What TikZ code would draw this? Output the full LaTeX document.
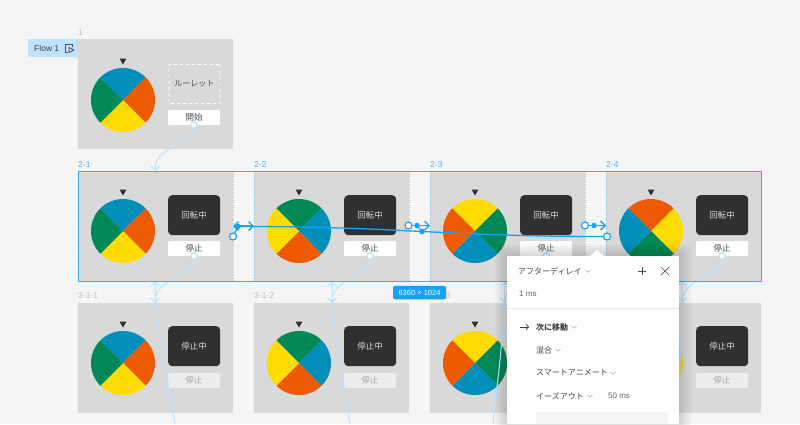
\documentclass[tikz,border=0pt]{standalone}
\usepackage{fontspec}
\setmainfont{Noto Sans CJK JP}
\newfontfamily\latinfont{Liberation Sans}
\usetikzlibrary{arrows.meta}
\definecolor{bgcolor}{HTML}{F5F5F5}
\definecolor{framecolor}{HTML}{D9D9D9}
\definecolor{darkbox}{HTML}{303030}
\definecolor{selcolor}{HTML}{18A0FB}
\definecolor{flowcolor}{HTML}{BDE3FF}
\definecolor{wblue}{HTML}{008FBB}
\definecolor{worange}{HTML}{EE5A00}
\definecolor{wyellow}{HTML}{FFDB00}
\definecolor{wgreen}{HTML}{008855}
\newcommand{\wheelr}{32}
\newcommand{\wheel}[7]{
\coordinate (#1) at (#2, #3);
\begin{scope}
\clip (#1) circle (\wheelr);
\fill[#4] (#1) -- ++(-40, -40) -- ++(80, 0) -- cycle;
\fill[#5] (#1) -- ++(40, -40) -- ++(0, 80) -- cycle;
\fill[#6] (#1) -- ++(40, 40) -- ++(-80, 0) -- cycle;
\fill[#7] (#1) -- ++(-40, 40) -- ++(0, -80) -- cycle;
\end{scope}
\fill[darkbox] (#2-3.5, #3-41.5) -- (#2+3.5, #3-41.5) -- (#2, #3-35.5) -- cycle;
}
\newcommand{\chev}[2]{\draw[black!35, line width=0.5pt] (#1-2.5, #2-1) -- (#1, #2+1.2) -- (#1+2.5, #2-1);}
\tikzset{
frame/.style={fill=framecolor, anchor=north west, minimum width=155pt, minimum height=110pt, inner sep=0pt},
framelabel/.style={anchor=west, inner sep=0pt, font=\latinfont\fontsize{8.5}{8}\selectfont, text=black!25},
sellabel/.style={framelabel, text=selcolor!80},
darkbtn/.style={fill=darkbox, rounded corners=4pt, anchor=north west, minimum width=52pt, minimum height=40pt, inner sep=0pt, text=black!15, font=\fontsize{8.5}{8}\selectfont},
whitebtn/.style={fill=white, rounded corners=1pt, anchor=north west, minimum width=52pt, minimum height=15pt, inner sep=0pt, text=black!70, font=\fontsize{8.5}{8}\selectfont},
offbtn/.style={whitebtn, fill=black!7, text=black!35},
flow/.style={draw=flowcolor, line width=1.1pt},
flowtip/.style={flow, -{Straight Barb[length=4.5pt, width=9pt]}},
flowknob/.style={circle, draw=flowcolor, fill=white, line width=1.2pt, minimum size=6.5pt, inner sep=0pt},
sel/.style={draw=selcolor, line width=1.3pt},
seltip/.style={sel, -{Straight Barb[length=4.5pt, width=9pt]}},
selknob/.style={circle, draw=selcolor, fill=white, line width=1.2pt, minimum size=7pt, inner sep=0pt},
seldot/.style={circle, fill=selcolor, minimum size=5.5pt, inner sep=0pt},
paneltext/.style={anchor=west, inner sep=0pt, text=black!75, font=\fontsize{8}{8}\selectfont},
panellatin/.style={anchor=west, inner sep=0pt, text=black!60, font=\latinfont\fontsize{8}{8}\selectfont},
}

\begin{document}
\begin{tikzpicture}[x=1pt, y=-1pt]
\clip (0, 0) rectangle (800, 424);
\useasboundingbox (0, 0) rectangle (800, 424);
\fill[bgcolor] (0, 0) rectangle (800, 424);
%frames
\node[frame] (f1) at (78, 39) {};
\node[frame] (f21) at (78, 171) {};
\node[frame] (f22) at (254, 171) {};
\node[frame] (f23) at (430, 171) {};
\node[frame] (f24) at (606, 171) {};
\node[frame] (f31) at (78, 303) {};
\node[frame] (f32) at (254, 303) {};
\node[frame] (f33) at (430, 303) {};
\node[frame] (f34) at (606, 303) {};
%frame labels
\node[framelabel] (l1) at (78, 33) {1};
\node[sellabel] (l21) at (78, 165) {2-1};
\node[sellabel] (l22) at (254, 165) {2-2};
\node[sellabel] (l23) at (430, 165) {2-3};
\node[sellabel] (l24) at (606, 165) {2-4};
\node[framelabel] (l31) at (78, 296) {3-1-1};
\node[framelabel] (l32) at (254, 296) {3-1-2};
\node[framelabel] (l33) at (430, 296) {3-1-3};
%flow tag
\fill[flowcolor, rounded corners=2pt] (28, 39) rectangle (84, 57);
\fill[framecolor] (78, 39) rectangle (84, 57);
\node[anchor=west, inner sep=0pt, text=black!75, font=\latinfont\fontsize{8.5}{8}\selectfont] (tag) at (34, 48) {Flow 1};
\draw[black!70, line width=0.7pt] (72, 44) -- (65.5, 44) -- (65.5, 52) -- (68, 52);
\draw[black!70, line width=0.7pt] (72, 44) -- (72, 47);
\draw[black!70, line width=0.7pt, line join=round] (69, 47.5) -- (74, 50) -- (69, 52.5) -- cycle;
%wheels
\wheel{w1}{123}{100}{wblue}{worange}{wyellow}{wgreen}
\wheel{w21}{123}{231}{wblue}{worange}{wyellow}{wgreen}
\wheel{w22}{299}{231}{wgreen}{wblue}{worange}{wyellow}
\wheel{w23}{475}{231}{wyellow}{wgreen}{wblue}{worange}
\wheel{w24}{651}{231}{worange}{wyellow}{wgreen}{wblue}
\wheel{w31}{123}{363}{wblue}{worange}{wyellow}{wgreen}
\wheel{w32}{299}{363}{wgreen}{wblue}{worange}{wyellow}
\wheel{w33}{475}{363}{wyellow}{wgreen}{wblue}{worange}
\wheel{w34}{651}{363}{worange}{wyellow}{wgreen}{wblue}
%buttons
\node[anchor=north west, draw=white, dashed, line width=0.8pt, minimum width=51pt, minimum height=39pt, inner sep=0pt, rounded corners=1pt, text=black!70, font=\fontsize{8}{8}\selectfont] (slot) at (168.5, 64) {ルーレット};
\node[whitebtn] (start) at (168, 110) {開始};
\node[darkbtn] (d21) at (168, 195) {回転中};
\node[darkbtn] (d22) at (344, 195) {回転中};
\node[darkbtn] (d23) at (520, 195) {回転中};
\node[darkbtn] (d24) at (696, 195) {回転中};
\node[whitebtn] (b21) at (168, 241) {停止};
\node[whitebtn] (b22) at (344, 241) {停止};
\node[whitebtn] (b23) at (520, 241) {停止};
\node[whitebtn] (b24) at (696, 241) {停止};
\node[darkbtn] (d31) at (168, 326) {停止中};
\node[darkbtn] (d32) at (344, 326) {停止中};
\node[darkbtn] (d34) at (696, 326) {停止中};
\node[offbtn] (b31) at (168, 373) {停止};
\node[offbtn] (b32) at (344, 373) {停止};
\node[offbtn] (b34) at (696, 373) {停止};
%flow connectors
\node[flowknob] (k1) at (194, 125) {};
\node[flowknob] (k21) at (194, 256) {};
\node[flowknob] (k22) at (370, 256) {};
\node[flowknob] (k23) at (546, 256) {};
\node[flowknob] (k24) at (722, 256) {};
\coordinate (top21) at (155, 171);
\coordinate (top31) at (155, 303);
\coordinate (top32) at (332, 303);
\coordinate (top33) at (505, 303);
\coordinate (top34) at (682, 303);
\coordinate (up21) at (155, 281);
\coordinate (up22) at (332, 281);
\coordinate (up23) at (505, 281);
\coordinate (up24) at (682, 281);
\coordinate (off31) at (175, 424);
\coordinate (off32) at (350, 424);
\coordinate (off33) at (493, 424);
\coordinate (off34) at (678, 424);
\draw[flowtip] (k1.south) .. controls (194, 145) and (155, 145) .. (top21);
\draw[flowtip] (k21.south) .. controls (194, 276) and (155, 278) .. (top31);
\draw[flowtip] (k22.south) .. controls (370, 276) and (332, 278) .. (top32);
\draw[flowtip] (k23.south) .. controls (546, 276) and (505, 278) .. (top33);
\draw[flowtip] (k24.south) .. controls (722, 276) and (682, 278) .. (top34);
\draw[flowtip] (off31) .. controls (165, 360) and (155, 320) .. (up21);
\draw[flowtip] (off32) .. controls (340, 360) and (332, 320) .. (up22);
\draw[flowtip] (off33) .. controls (500, 360) and (505, 320) .. (up23);
\draw[flowtip] (off34) .. controls (680, 360) and (682, 320) .. (up24);
%selection
\fill[bgcolor] (233, 172) rectangle (254, 280);
\fill[bgcolor] (409, 172) rectangle (430, 280);
\fill[bgcolor] (585, 172) rectangle (606, 280);
\foreach \x in {233, 254, 409, 430, 585, 606} {
\draw[selcolor!55, line width=0.6pt, dotted] (\x, 171) -- (\x, 281);
}
\node[draw=selcolor!85, anchor=north west, minimum width=683pt, minimum height=110pt, inner sep=0pt, line width=1.2pt] (selbox) at (78, 171) {};
%selected connectors
\node[selknob] (s1) at (233, 236.5) {};
\node[seldot] (s2) at (238, 226.5) {};
\node[selknob] (s3) at (607, 236.5) {};
\coordinate (s4) at (233, 226);
\coordinate (s5) at (254, 226);
\node[selknob] (s6) at (408.5, 225.5) {};
\node[seldot] (s7) at (417, 225.5) {};
\coordinate (s8) at (430, 225.5);
\node[seldot] (s9) at (422, 231.5) {};
\node[selknob] (s10) at (585, 225.5) {};
\node[seldot] (s11) at (594, 225.5) {};
\coordinate (s12) at (606, 225.5);
\draw[sel] (s1) -- (s2);
\draw[seltip, {Straight Barb[length=4.5pt, width=9pt]}-{Straight Barb[length=4.5pt, width=9pt]}] (s4) -- (s5);
\draw[sel] (s2) .. controls (400, 226.5) and (445, 236.5) .. (s3);
\draw[seltip] (s7) -- (s8);
\draw[sel] (s6) -- (s7);
\draw[sel] (s9) -- (s7);
\draw[seltip] (s11) -- (s12);
\draw[sel] (s10) -- (s11);
\node[fill=selcolor, rounded corners=1.5pt, minimum width=53pt, minimum height=13.5pt, inner sep=0pt, text=white, font=\latinfont\fontsize{7.5}{8}\selectfont] (size) at (419.5, 292.5) {6360 × 1024};
%panel
\foreach \s in {1, 2, ..., 6} {
\fill[black, opacity=0.025, rounded corners=2pt] (507-2*\s, 256-2*\s) rectangle (679+2*\s, 430);
}
\fill[white] (507, 256) rectangle (679, 424);
\fill[white] (590, 256) -- (597, 250) -- (604, 256) -- cycle;
\node[paneltext] (after) at (518, 271) {アフターディレイ};
\chev{588}{271}
\draw[black!70, line width=0.7pt] (642, 267) -- (642, 275);
\draw[black!70, line width=0.7pt] (638, 271) -- (646, 271);
\draw[black!70, line width=0.7pt] (661, 267) -- (669, 275);
\draw[black!70, line width=0.7pt] (669, 267) -- (661, 275);
\node[panellatin] (delay) at (519, 294) {1 ms};
\draw[black!10, line width=0.7pt] (507, 308) -- (679, 308);
\coordinate (ar1) at (520, 327);
\coordinate (ar2) at (529, 327);
\draw[black!75, line width=0.7pt, -{Straight Barb[length=2.5pt, width=5.5pt]}] (ar1) -- (ar2);
\node[paneltext, font=\fontsize{8}{8}\selectfont\bfseries] (next) at (536, 327) {次に移動};
\chev{574}{327}
\node[paneltext] (mix) at (536, 350) {混合};
\chev{558}{350}
\node[paneltext] (smart) at (536, 373) {スマートアニメート};
\chev{613}{373}
\node[paneltext] (ease) at (536, 396) {イーズアウト};
\chev{590}{396}
\node[panellatin] (ms) at (608, 396) {50 ms};
\fill[bgcolor] (536, 412) rectangle (668, 424);
\end{tikzpicture}
\end{document}
